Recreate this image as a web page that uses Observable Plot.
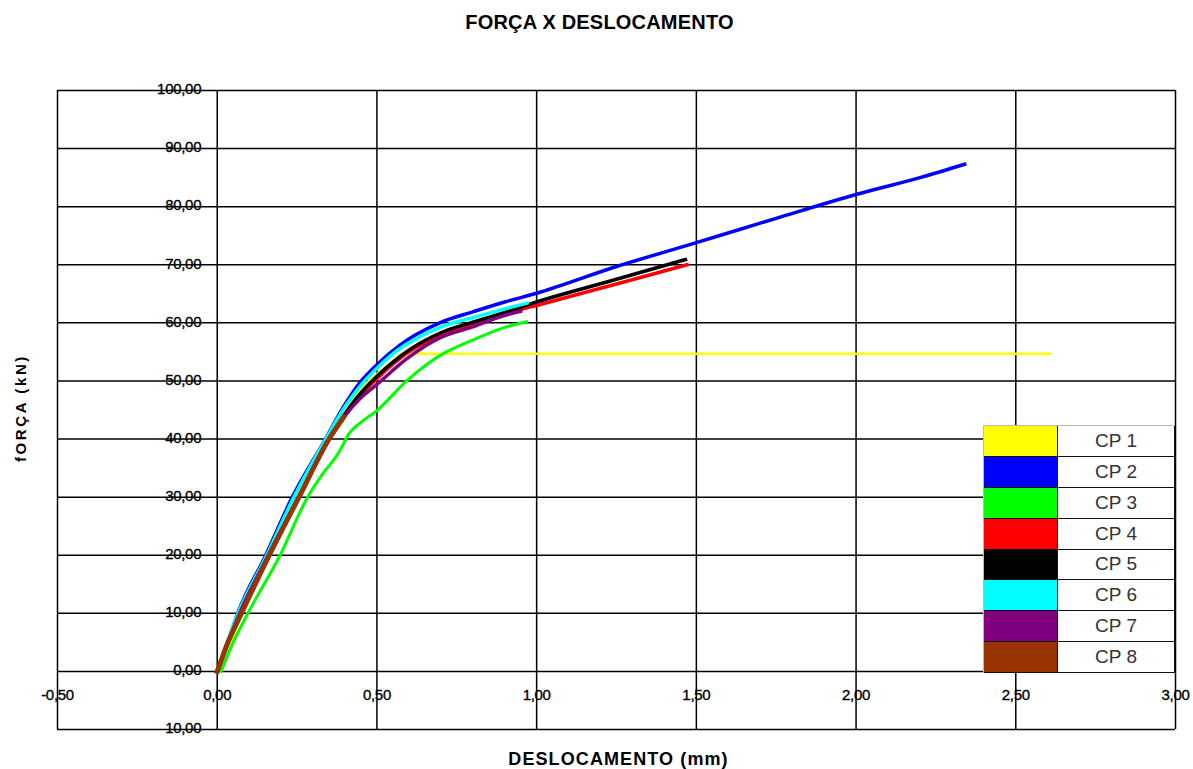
<!DOCTYPE html>
<html>
<head>
<meta charset="utf-8">
<script src="https://cdn.jsdelivr.net/npm/d3@7"></script>
<script src="https://cdn.jsdelivr.net/npm/@observablehq/plot@0.6"></script>
<style>
  body { margin: 0; background: #fff; font-family: "Liberation Sans", Arial, sans-serif; }
  #wrap { position: relative; width: 1193px; height: 769px; overflow: hidden; background: #fff; }
  #title { height: 45px; line-height: 45px; text-align: center; font-weight: bold; font-size: 20px;
           letter-spacing: 0.2px; color: #000; padding-left: 6px; }
  #legend { position: absolute; left: 983px; top: 425px; width: 192px; height: 248px; box-sizing: border-box;
            display: grid; grid-template-columns: 74px 1fr; grid-template-rows: repeat(8, 1fr);
            border-left: 1px solid #bbb; border-top: 1px solid #bbb; background: #fff; }
  #legend .sw { border-right: 1.5px solid #111; border-bottom: 1.5px solid #111; }
  #legend .lb { border-right: 1.5px solid #111; border-bottom: 1.5px solid #111; display: flex;
                align-items: center; justify-content: center; font-size: 19px; color: #333; }
  svg { display: block; }
</style>
</head>
<body>
<div id="wrap">
  <div id="title">FORÇA X DESLOCAMENTO</div>
  <div id="chart"></div>
  <div id="legend"></div>
</div>
<script>
// ---- Data ----
const names  = ["CP 1", "CP 2", "CP 3", "CP 4", "CP 5", "CP 6", "CP 7", "CP 8"];
const colors = ["#FFFF00", "#0000FF", "#00FF00", "#FF0000", "#000000", "#00FFFF", "#800080", "#993300"];

const cp1X = [0, 0.02, 0.07, 0.16, 0.25, 0.34, 0.40, 0.45, 0.50, 0.55, 0.578, 1.0, 1.63, 2.61];
const cp1Y = [0, 1.0, 9.5, 19.8, 29.8, 39.8, 45.3, 48.6, 51.2, 53.5, 54.7, 54.7, 54.7, 54.7];

const cp2X = [0, 0.03, 0.064, 0.152, 0.235, 0.339, 0.396, 0.448, 0.50, 0.573, 0.62, 0.70, 0.80, 0.90, 1.0, 1.25, 1.5, 1.75, 2.0, 2.2, 2.34];
const cp2Y = [0, 4.5, 10, 20, 30, 40, 45.6, 49.8, 52.8, 56.2, 57.9, 60.1, 61.9, 63.6, 65.1, 69.7, 73.8, 78, 82.1, 85, 87.3];

const cp3X = [0.012, 0.05, 0.095, 0.194, 0.282, 0.33, 0.37, 0.386, 0.412, 0.448, 0.50, 0.593, 0.698, 0.811, 0.905, 0.968];
const cp3Y = [0, 5, 9.9, 19.7, 29.9, 34.0, 36.8, 38.2, 40.9, 42.8, 44.9, 50, 54.4, 57.3, 59.3, 60.2];

const cp4X = [0, 0.07, 0.16, 0.255, 0.35, 0.44, 0.50, 0.60, 0.70, 0.80, 0.90, 0.958, 1.0, 1.25, 1.471];
const cp4Y = [0, 10, 20, 30, 40, 47.0, 50.4, 55, 57.9, 59.6, 61.3, 62.4, 63.0, 66.7, 70.0];

const cp5X = [0, 0.07, 0.16, 0.255, 0.35, 0.44, 0.50, 0.60, 0.70, 0.80, 0.90, 1.0, 1.25, 1.466];
const cp5Y = [0, 10, 20, 30, 40, 47.3, 50.8, 55.3, 58.3, 60.1, 61.8, 63.6, 67.5, 70.9];

const cp6X = [0, 0.065, 0.155, 0.24, 0.34, 0.40, 0.45, 0.50, 0.57, 0.63, 0.70, 0.80, 0.90, 0.97];
const cp6Y = [0, 10, 20, 30, 40, 45.6, 49.3, 52.2, 55.5, 57.5, 59.3, 60.9, 62.4, 63.4];

const cp7X = [0, 0.07, 0.16, 0.255, 0.35, 0.40, 0.448, 0.50, 0.593, 0.70, 0.80, 0.90, 0.95];
const cp7Y = [0, 10, 20, 30, 40, 44.0, 47.0, 49.4, 53.8, 57.5, 59.3, 61.3, 62.0];

const cp8X = [0, 0.01, 0.03, 0.075, 0.163, 0.256, 0.35, 0.396];
const cp8Y = [0, 1.5, 4.5, 9.9, 20, 30, 40, 43.8];

const xTicks = [-0.5, 0, 0.5, 1, 1.5, 2, 2.5, 3];
const xTickLabels = ["-0,50", "0,00", "0,50", "1,00", "1,50", "2,00", "2,50", "3,00"];
const yTicks = [-10, 0, 10, 20, 30, 40, 50, 60, 70, 80, 90, 100];
const yTickLabels = ["10,00", "0,00", "10,00", "20,00", "30,00", "40,00", "50,00", "60,00", "70,00", "80,00", "90,00", "100,00"];

const titleX = "DESLOCAMENTO (mm)";
const titleY = "fORÇA (kN)";

// ---- Build ----
const seriesX = [cp1X, cp2X, cp3X, cp4X, cp5X, cp6X, cp7X, cp8X];
const seriesY = [cp1Y, cp2Y, cp3Y, cp4Y, cp5Y, cp6Y, cp7Y, cp8Y];
const widths  = [2.5, 3.5, 3, 3.5, 3.5, 3.5, 3.5, 5];

const lineMarks = names.map((n, k) => {
  const rows = seriesX[k].map((x, i) => ({x, y: seriesY[k][i]}));
  return Plot.line(rows, {x: "x", y: "y", stroke: colors[k], strokeWidth: widths[k],
                          strokeLinejoin: "round", strokeLinecap: "square", curve: "monotone-x"});
});

const font = "'Liberation Sans', Arial, sans-serif";

const plot = Plot.plot({
  width: 1193,
  height: 724,
  marginTop: 45,
  marginLeft: 57,
  marginRight: 18,
  marginBottom: 40,
  x: {domain: [-0.5, 3], axis: null},
  y: {domain: [-10, 100], axis: null},
  style: {fontFamily: font, background: "#fff", color: "#000"},
  marks: [
    Plot.text(xTicks, {x: d => d, y: () => 0, text: (d, i) => xTickLabels[i], dy: 24, fontSize: 15, fill: "#000", stroke: "#000", strokeWidth: 0.35}),
    Plot.text(yTicks, {x: () => 0, y: d => d, text: (d, i) => yTickLabels[i], textAnchor: "end", dx: -16, dy: -1, fontSize: 15, fill: "#000", stroke: "#000", strokeWidth: 0.35}),
    Plot.ruleX(xTicks, {x: d => d, stroke: "#000", strokeWidth: 1.5}),
    Plot.ruleY(yTicks, {y: d => d, stroke: "#000", strokeWidth: 1.5}),
    ...lineMarks,
    Plot.text([titleY], {frameAnchor: "left", text: d => d, rotate: -90, dx: -36, dy: 52, fontWeight: "bold", fontSize: 15, fill: "#000"}),
    Plot.text([titleX], {frameAnchor: "bottom", text: d => d, dy: 35, dx: 2, fontWeight: "bold", fontSize: 18, fill: "#000"})
  ]
});

plot.querySelectorAll("text").forEach(t => {
  if (t.textContent === titleY) t.setAttribute("letter-spacing", "2.6");
  if (t.textContent === titleX) t.setAttribute("letter-spacing", "1.1");
  if (/^-?\d+,\d\d$/.test(t.textContent)) t.setAttribute("letter-spacing", "-0.3");
});

document.getElementById("chart").appendChild(plot);

// ---- Legend ----
const legend = document.getElementById("legend");
names.forEach((n, k) => {
  const sw = document.createElement("div");
  sw.className = "sw";
  sw.style.background = colors[k];
  const lb = document.createElement("div");
  lb.className = "lb";
  lb.textContent = n;
  legend.appendChild(sw);
  legend.appendChild(lb);
});
</script>
</body>
</html>
